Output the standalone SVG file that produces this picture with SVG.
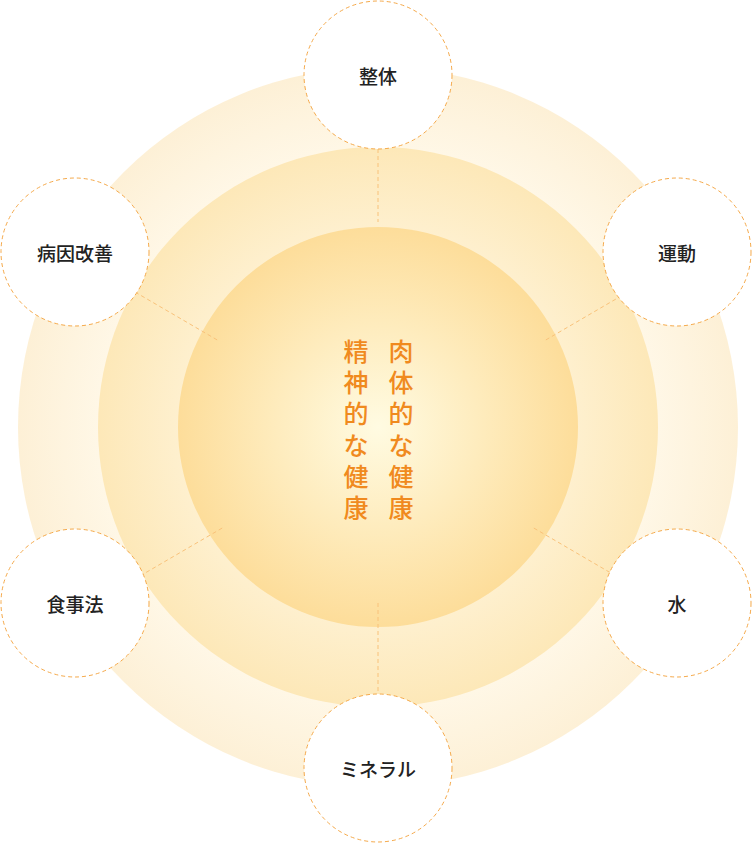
<svg xmlns="http://www.w3.org/2000/svg" width="752" height="843" viewBox="0 0 752 843">
<defs>
<radialGradient id="g" cx="50%" cy="50%" r="50%">
<stop offset="0" stop-color="#fffbe2"/>
<stop offset="1" stop-color="#fddd9a"/>
</radialGradient>
<radialGradient id="g2" cx="50%" cy="50%" r="50%">
<stop offset="0.7" stop-color="#fef0cf"/>
<stop offset="1" stop-color="#fde8b8"/>
</radialGradient>
<radialGradient id="g3" cx="50%" cy="50%" r="50%">
<stop offset="0.75" stop-color="#fff8e8"/>
<stop offset="1" stop-color="#fdf0d6"/>
</radialGradient>
</defs>
<style>
.n{fill:#fff;stroke:#f5a94a;stroke-width:1;stroke-dasharray:4 3}
.l{font-family:"Noto Sans CJK JP","Noto Sans",sans-serif;font-size:19px;font-weight:500;fill:#222;text-anchor:middle;dominant-baseline:central}
.c{stroke:#f9c27a;stroke-width:1;stroke-dasharray:4 3;fill:none}
.t{font-family:"Noto Sans CJK JP",sans-serif;font-size:25px;font-weight:500;fill:#f08a1e;text-anchor:middle;dominant-baseline:central}
</style>
<circle cx="378" cy="427" r="360" fill="url(#g3)"/>
<circle cx="378" cy="427" r="280" fill="url(#g2)"/>
<circle cx="378" cy="427" r="200" fill="url(#g)"/>
<g id="connectors">
<line class="c" x1="378" y1="135" x2="378" y2="222"/>
<line class="c" x1="123" y1="285" x2="219" y2="341"/>
<line class="c" x1="640" y1="285" x2="544" y2="341"/>
<line class="c" x1="128" y1="583" x2="224" y2="527"/>
<line class="c" x1="628" y1="583" x2="532" y2="527"/>
<line class="c" x1="378" y1="603" x2="378" y2="715"/>
</g>
<g id="center">
<text class="t" x="356" y="350">精</text><text class="t" x="356" y="381">神</text><text class="t" x="356" y="412">的</text><text class="t" x="356" y="444">な</text><text class="t" x="356" y="475">健</text><text class="t" x="356" y="506">康</text>
<text class="t" x="401" y="350">肉</text><text class="t" x="401" y="381">体</text><text class="t" x="401" y="412">的</text><text class="t" x="401" y="444">な</text><text class="t" x="401" y="475">健</text><text class="t" x="401" y="506">康</text>
</g>
<g id="n1"><circle class="n" cx="378" cy="75" r="74"/><text class="l" x="378" y="75">整体</text></g>
<g id="n2"><circle class="n" cx="75" cy="252" r="74"/><text class="l" x="75" y="252">病因改善</text></g>
<g id="n3"><circle class="n" cx="677" cy="252" r="74"/><text class="l" x="677" y="252">運動</text></g>
<g id="n4"><circle class="n" cx="75" cy="603" r="74"/><text class="l" x="75" y="603">食事法</text></g>
<g id="n5"><circle class="n" cx="677" cy="603" r="74"/><text class="l" x="677" y="603">水</text></g>
<g id="n6"><circle class="n" cx="378" cy="768" r="74"/><text class="l" x="378" y="768">ミネラル</text></g>
</svg>
